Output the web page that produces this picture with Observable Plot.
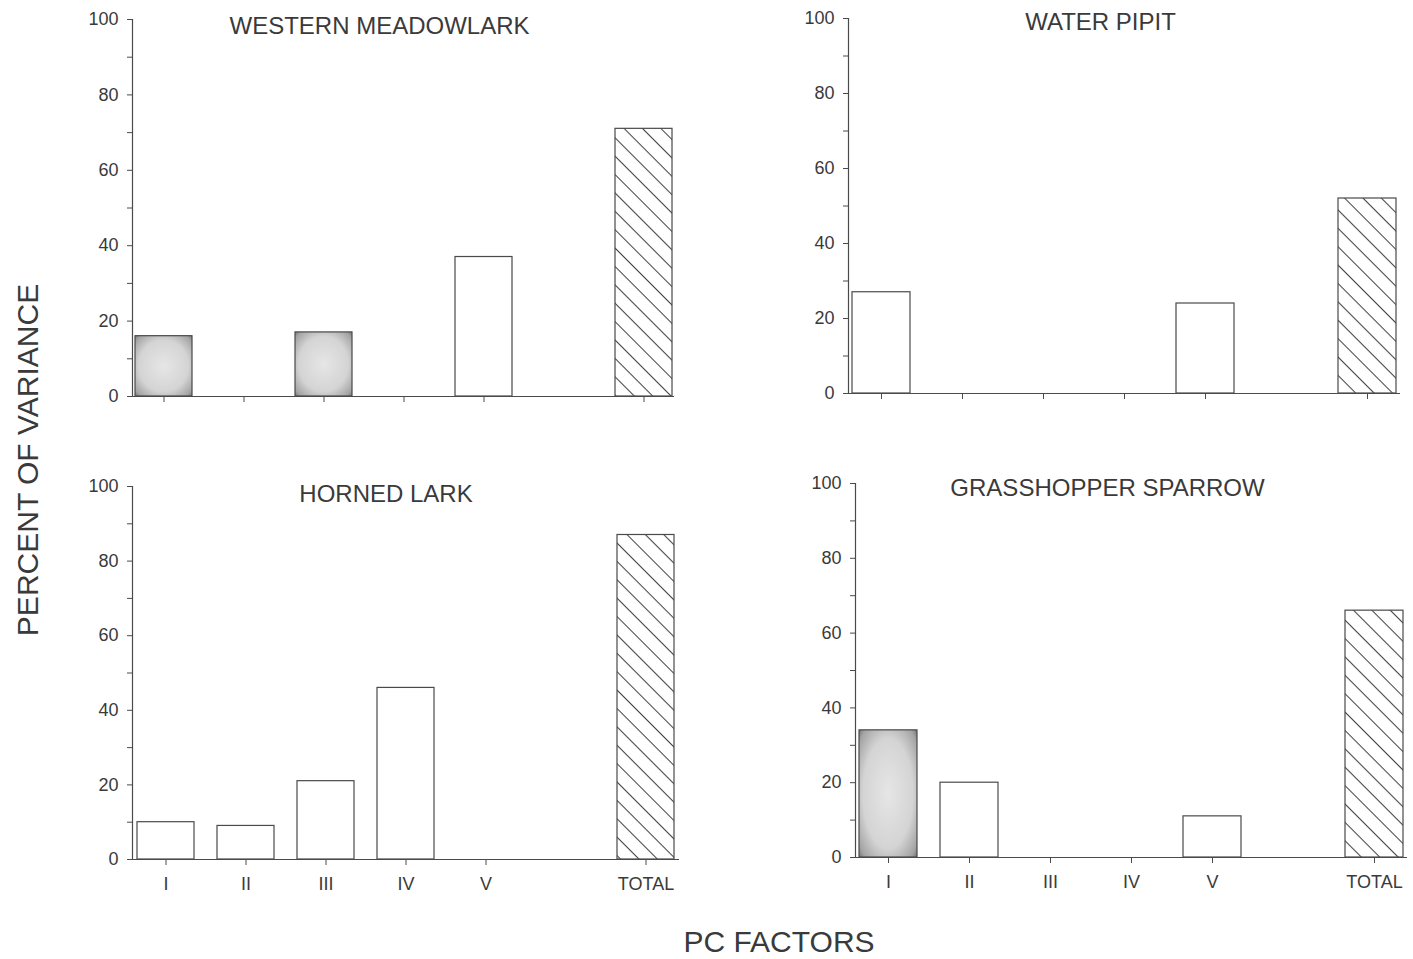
<!DOCTYPE html>
<html><head><meta charset="utf-8">
<script src="https://cdn.jsdelivr.net/npm/d3@7"></script>
<script src="https://cdn.jsdelivr.net/npm/@observablehq/plot@0.6"></script>
<style>
body{margin:0;background:#fff;}
#wrap{position:relative;width:1413px;height:959px;font-family:"Liberation Sans",Arial,sans-serif;color:#3a3a3a;overflow:hidden;}
.panel{position:absolute;}
#ylab{position:absolute;left:28px;top:460px;transform:translate(-50%,-50%) rotate(-90deg);font-size:30px;white-space:nowrap;}
#xlab{position:absolute;left:779px;top:942px;transform:translate(-50%,-50%);font-size:30px;white-space:nowrap;}
</style></head>
<body>
<svg width="0" height="0" style="position:absolute">
<defs>
<pattern id="hatch" patternUnits="userSpaceOnUse" width="13" height="13" patternTransform="rotate(45)">
<rect width="13" height="13" fill="white"/>
<line x1="0" y1="0.5" x2="13" y2="0.5" stroke="#444" stroke-width="1.1"/>
</pattern>
<radialGradient id="stipple" cx="0.5" cy="0.5" r="0.72">
<stop offset="0" stop-color="#e6e6e6"/>
<stop offset="0.6" stop-color="#d4d4d4"/>
<stop offset="0.88" stop-color="#a4a4a4"/>
<stop offset="1" stop-color="#6c6c6c"/>
</radialGradient>
</defs></svg>
<div id="wrap">
<div id="ylab">PERCENT OF VARIANCE</div>
<div id="xlab">PC FACTORS</div>
</div>
<script>
// ---- data ----
const factors = ["I", "II", "III", "IV", "V", "TOTAL"];
const slots = ["I", "II", "III", "IV", "V", " ", "TOTAL"]; // blank slot before TOTAL
const yTicks = [0, 10, 20, 30, 40, 50, 60, 70, 80, 90, 100];

const titles = ["WESTERN MEADOWLARK", "WATER PIPIT", "HORNED LARK", "GRASSHOPPER SPARROW"];

const meadowlarkValues = [16, 0, 17, 0, 37, 71];
const pipitValues = [27, 0, 0, 0, 24, 52];
const hornedLarkValues = [10, 9, 21, 46, 0, 87];
const grasshopperValues = [34, 20, 0, 0, 11, 66];

const meadowlarkKinds = ["shaded", "open", "shaded", "open", "open", "hatched"];
const pipitKinds = ["open", "open", "open", "open", "open", "hatched"];
const hornedLarkKinds = ["open", "open", "open", "open", "open", "hatched"];
const grasshopperKinds = ["shaded", "open", "open", "open", "open", "hatched"];

// ---- layout ----
const panels = [
  {title: titles[0], values: meadowlarkValues, kinds: meadowlarkKinds, left: 0, top: 0, w: 700, h: 440,
   ml: 132, mr: 26, mt: 19, mb: 44, labels: false, dx: -24, dy: 7},
  {title: titles[1], values: pipitValues, kinds: pipitKinds, left: 706, top: 0, w: 707, h: 440,
   ml: 142, mr: 13, mt: 18, mb: 47, labels: false, dx: -24, dy: 4},
  {title: titles[2], values: hornedLarkValues, kinds: hornedLarkKinds, left: 0, top: 440, w: 700, h: 475,
   ml: 132, mr: 21, mt: 46, mb: 56, labels: true, dx: -20, dy: 8},
  {title: titles[3], values: grasshopperValues, kinds: grasshopperKinds, left: 706, top: 440, w: 707, h: 475,
   ml: 149, mr: 6, mt: 43, mb: 58, labels: true, dx: -24, dy: 5}
];

const fills = {open: "white", shaded: "url(#stipple)", hatched: "url(#hatch)"};
const ink = "#4a4a4a";

const wrap = document.getElementById("wrap");
for (const p of panels) {
  const rows = factors.map((f, i) => ({factor: f, value: p.values[i], kind: p.kinds[i]})).filter(d => d.value > 0);
  const barMarks = Object.keys(fills).map(k =>
    Plot.barY(rows.filter(d => d.kind === k), {x: "factor", y: "value", fill: fills[k], stroke: ink, strokeWidth: 1.2})
  );
  const chart = Plot.plot({
    width: p.w, height: p.h,
    marginLeft: p.ml, marginRight: p.mr, marginTop: p.mt, marginBottom: p.mb,
    x: {domain: slots, paddingInner: 0.29, paddingOuter: 0.03},
    y: {domain: [0, 100]},
    style: {fontFamily: '"Liberation Sans", Arial, sans-serif', fontSize: "18px", color: "#3a3a3a", background: "transparent", overflow: "visible"},
    marks: [
      ...barMarks,
      Plot.ruleY([0], {stroke: ink, strokeWidth: 1.2}),
      Plot.frame({anchor: "left", stroke: ink, strokeWidth: 1.2}),
      Plot.axisY({ticks: yTicks, tickSize: 5, tickPadding: 9, tickFormat: d => d % 20 === 0 ? String(d) : "", label: null, stroke: ink}),
      Plot.axisX({ticks: factors, tickSize: 6, tickPadding: 12, tickFormat: d => p.labels ? d : "", label: null, stroke: ink}),
      Plot.text([p.title], {text: d => d, frameAnchor: "top", dx: p.dx, dy: p.dy, fontSize: 24, lineAnchor: "middle", fill: "#3a3a3a"})
    ]
  });
  chart.classList.add("panel");
  chart.style.left = p.left + "px";
  chart.style.top = p.top + "px";
  chart.style.position = "absolute";
  wrap.appendChild(chart);
}
</script>
</body></html>
